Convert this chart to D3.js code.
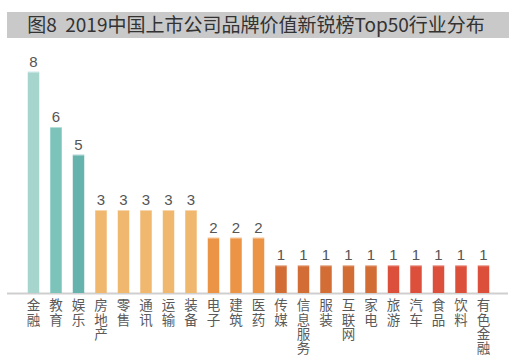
<!DOCTYPE html>
<html><head><meta charset="utf-8">
<script src="https://cdn.jsdelivr.net/npm/d3@7/dist/d3.min.js"></script>
<style>body{margin:0;background:#fff}svg{display:block}</style>
</head><body>
<script>
const title = "图8\u00a0\u00a02019中国上市公司品牌价值新锐榜Top50行业分布";
const categories = ["金融","教育","娱乐","房地产","零售","通讯","运输","装备","电子","建筑","医药","传媒","信息服务","服装","互联网","家电","旅游","汽车","食品","饮料","有色金融"];
const values = [8,6,5,3,3,3,3,3,2,2,2,1,1,1,1,1,1,1,1,1,1];
const colors = ["#a6d5ce","#7cc3ba","#66b2ad","#f0b76f","#f0b76f","#f0b76f","#f0b76f","#f0b76f","#eb9446","#eb9446","#eb9446","#d36d36","#d36d36","#d36d36","#d36d36","#d36d36","#dc4f3a","#dc4f3a","#dc4f3a","#dc4f3a","#dc4f3a"];

const W = 527, H = 364;
const svg = d3.select("body").append("svg").attr("width", W).attr("height", H);
const font = "'Noto Sans CJK SC', 'Liberation Sans', sans-serif";

svg.append("rect").attr("x", 7).attr("y", 12).attr("width", 502).attr("height", 26).attr("fill", "#c9c9c9");
svg.append("text").attr("x", 256).attr("y", 31.5).attr("text-anchor", "middle")
  .attr("font-family", font).attr("font-size", 19).attr("fill", "#333").text(title);

const x = d3.scaleBand().domain(categories).range([22.25, 494.75]).paddingInner(0.49).paddingOuter(0.245);
const y = d3.scaleLinear().domain([0, 8]).range([293, 71.7]);

svg.append("line").attr("x1", 7).attr("x2", 508).attr("y1", 293.5).attr("y2", 293.5)
  .attr("stroke", "#cfcfcf").attr("stroke-width", 2);

const g = svg.append("g");
g.selectAll("rect.bar").data(values).join("rect").attr("class", "bar")
  .attr("x", (d, i) => x(categories[i])).attr("width", x.bandwidth())
  .attr("y", d => y(d)).attr("height", d => y(0) - y(d))
  .attr("fill", (d, i) => colors[i]);
g.selectAll("rect.top").data(values).join("rect").attr("class", "top")
  .attr("x", (d, i) => x(categories[i])).attr("width", x.bandwidth())
  .attr("y", d => y(d)).attr("height", 1)
  .attr("fill", "#fff").attr("opacity", 0.45);

g.selectAll("text.val").data(values).join("text").attr("class", "val")
  .attr("x", (d, i) => x(categories[i]) + x.bandwidth() / 2)
  .attr("y", d => y(d) - 5)
  .attr("text-anchor", "middle").attr("font-family", "'Liberation Sans', sans-serif")
  .attr("font-size", 15).attr("fill", "#555").text(d => d);

g.selectAll("text.cat").data(categories).join("text").attr("class", "cat")
  .attr("x", c => x(c) + x.bandwidth() / 2).attr("y", 298.5)
  .attr("writing-mode", "vertical-rl").style("writing-mode", "vertical-rl")
  .attr("letter-spacing", 0.8)
  .attr("font-family", font).attr("font-size", 13.5)
  .attr("fill", "#5a5a5a").text(c => c);
</script>
</body></html>
